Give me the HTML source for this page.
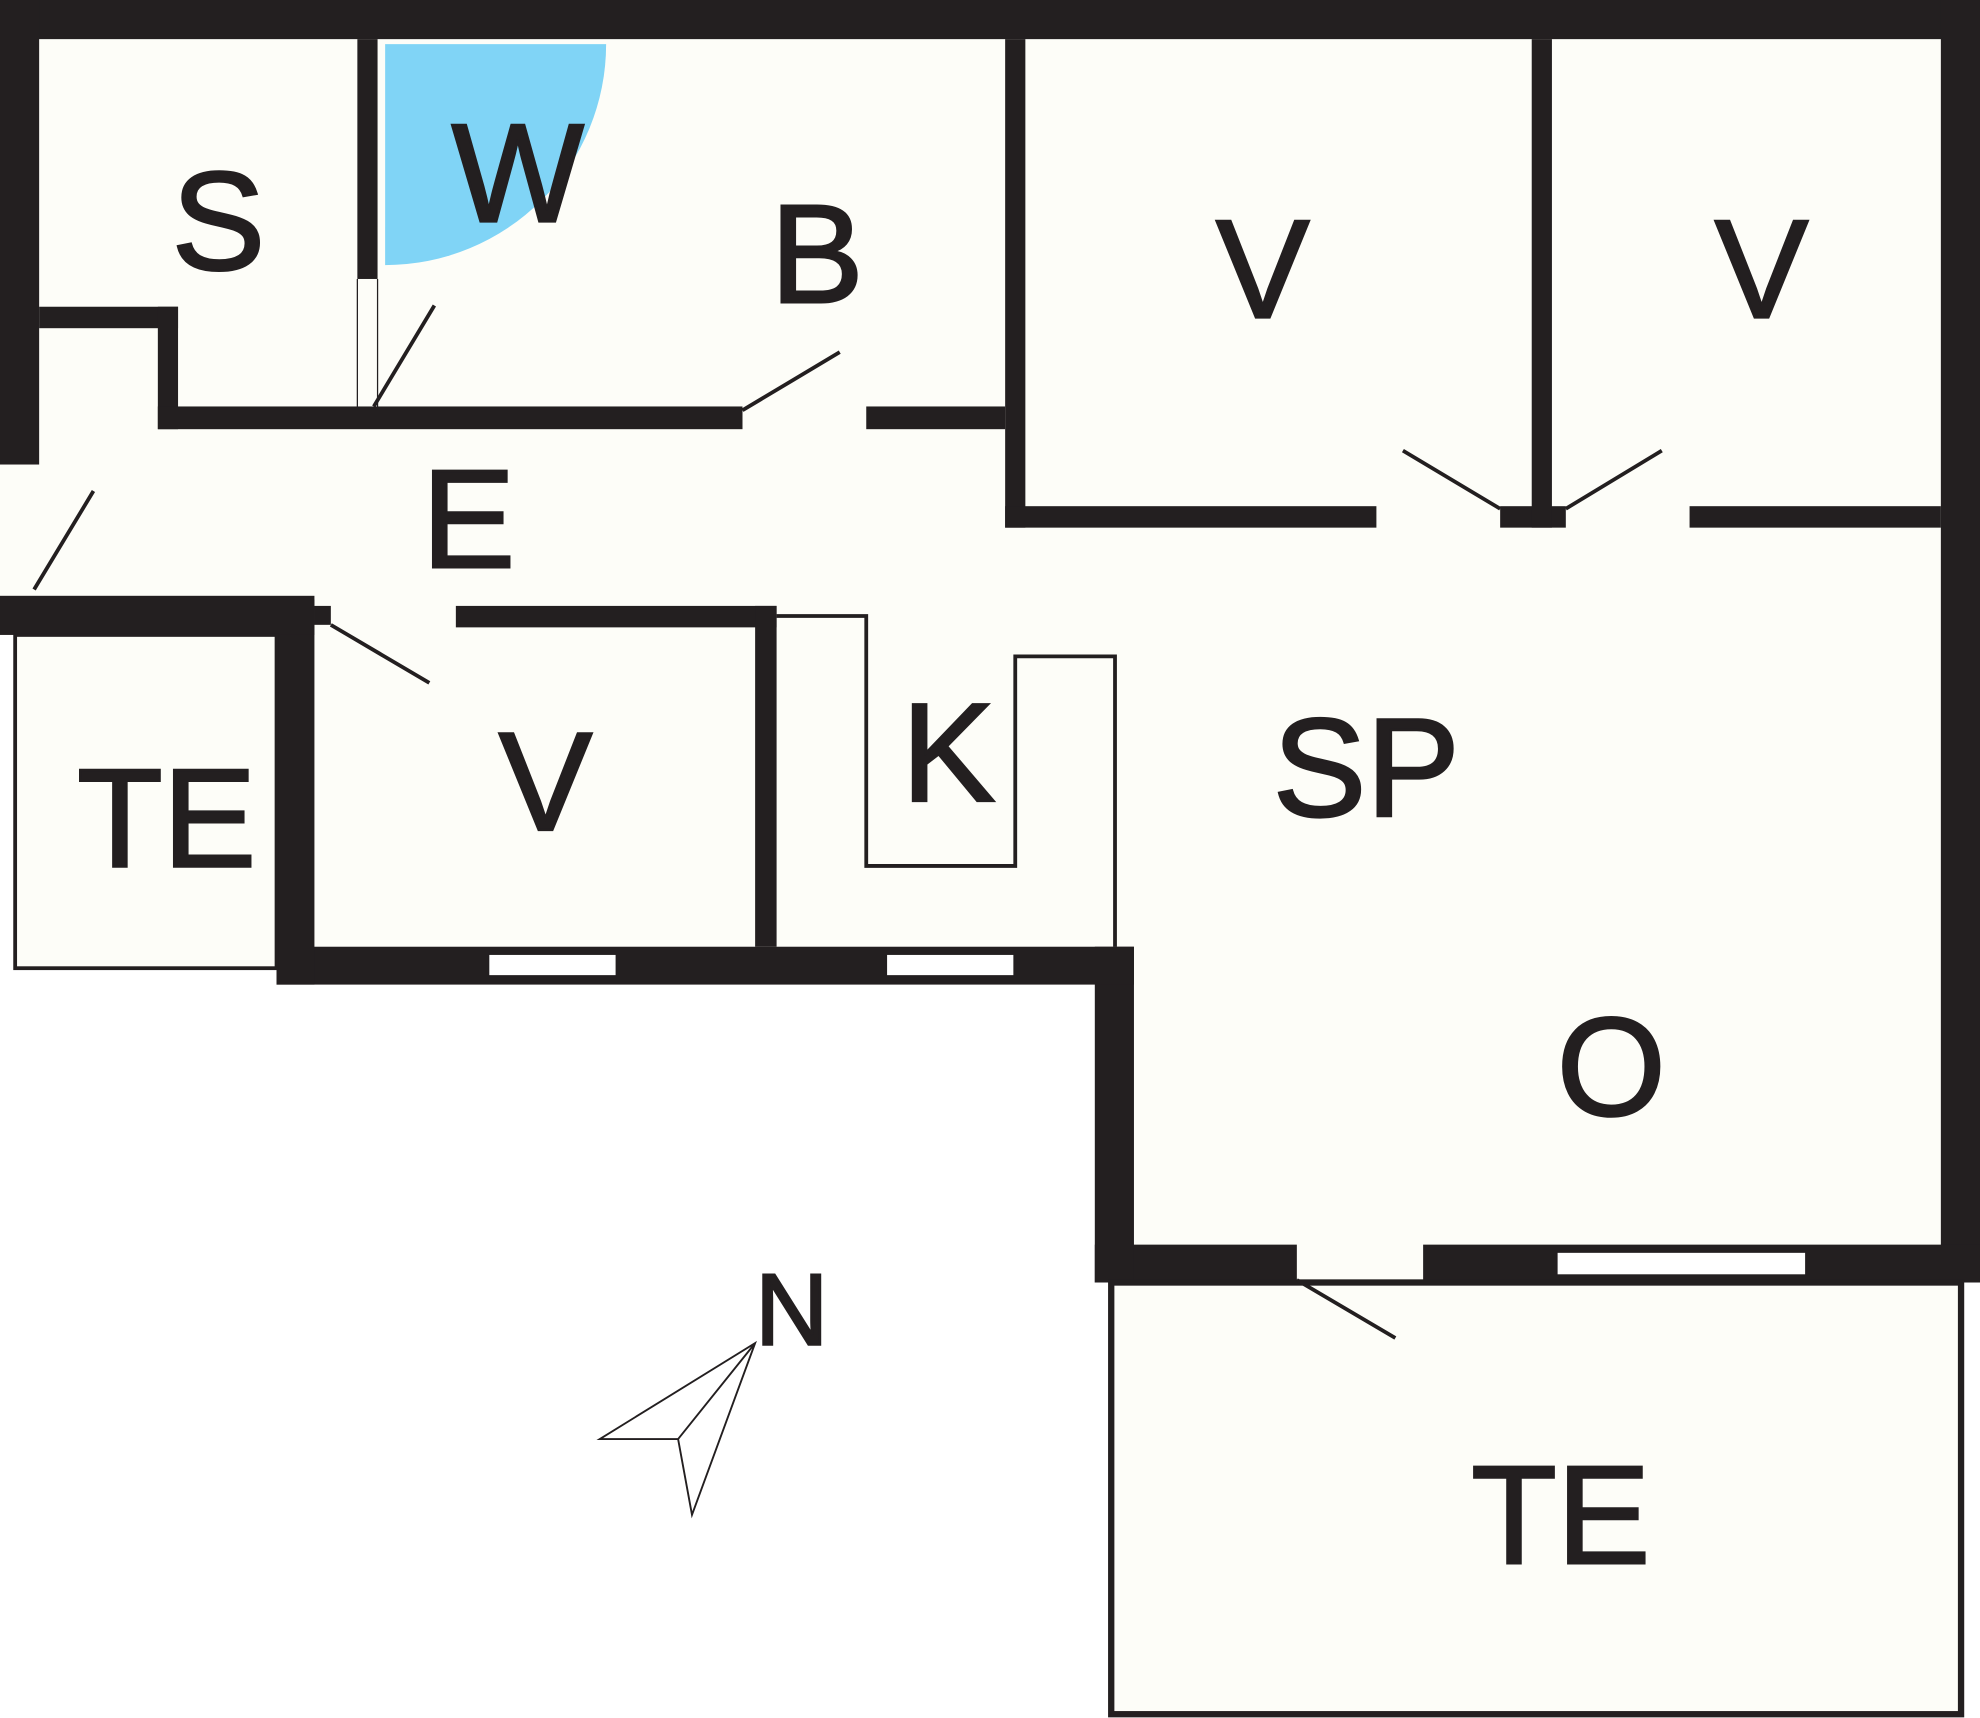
<!DOCTYPE html>
<html><head><meta charset="utf-8"><style>
html,body{margin:0;padding:0;background:#fff;}
svg{display:block;}
text{font-family:"Liberation Sans",sans-serif;fill:#231f20;stroke:#231f20;stroke-width:2;text-anchor:middle;dominant-baseline:central;}
</style></head><body>
<svg width="1980" height="1718" viewBox="0 0 1568 1361" preserveAspectRatio="none" xmlns="http://www.w3.org/2000/svg">
<path d="M0 0 H1568 V1016 H898 V780 H219 V767 H12 V503 H0 Z" fill="#fdfdf8"/>
<rect x="880" y="1016" width="673" height="342" fill="#fdfdf8"/>
<path d="M305 35 H480 A175 175 0 0 1 305 210 Z" fill="#80d4f6"/>
<g fill="#231f20">
<rect x="0" y="0" width="1568" height="31"/>
<rect x="0" y="0" width="31" height="368"/>
<rect x="1537" y="0" width="31" height="1016"/>
<rect x="867" y="986" width="160" height="30"/>
<rect x="1127" y="986" width="441" height="30"/>
<rect x="867" y="750" width="31" height="266"/>
<rect x="219" y="750" width="679" height="30"/>
<rect x="219" y="475" width="30" height="305"/>
<rect x="0" y="472" width="249" height="31"/>
<rect x="249" y="480" width="13" height="15"/>
<rect x="361" y="480" width="254" height="17"/>
<rect x="598" y="480" width="17" height="270"/>
<rect x="283" y="31" width="16" height="190"/>
<rect x="31" y="243" width="110" height="17"/>
<rect x="125" y="243" width="16" height="97"/>
<rect x="125" y="322" width="463" height="18"/>
<rect x="686" y="322" width="110" height="18"/>
<rect x="796" y="31" width="16" height="387"/>
<rect x="796" y="401" width="294" height="17"/>
<rect x="1338" y="401" width="199" height="17"/>
<rect x="1188" y="401" width="52" height="17"/>
<rect x="1213" y="31" width="16" height="387"/>
</g>
<g fill="#fff" stroke="#231f20" stroke-width="1">
<rect x="387" y="756" width="101" height="17"/>
<rect x="702" y="756" width="101" height="17"/>
<rect x="1233" y="992" width="197" height="18"/>
</g>
<g fill="none" stroke="#231f20" stroke-width="3">
<rect x="12" y="503" width="207" height="264"/>
<path d="M615 488 H686 V686 H804 V520 H883 V750"/>
<rect x="880" y="1016" width="673" height="342" stroke-width="5"/>
<path d="M296 322 L344 242 M588 325 L665 279 M1111 357 L1188 403 M1240 403 L1316 357 M27 467 L74 389 M262 495 L340 541 M1027 1014 L1105 1060"/>
<path d="M283 221 V322 M299 221 V322" stroke-width="1"/>
<path d="M475 1140 L598 1064 L548 1200 L537 1140 Z M537 1140 L598 1064" stroke-width="1.5"/>
</g>
<g font-size="111">
<text x="173" y="175">S</text>
<text x="410" y="137">W</text>
<text x="647" y="201">B</text>
<text x="1000" y="213">V</text>
<text x="1395" y="213">V</text>
<text x="371" y="411">E</text>
<text x="132" y="648">TE</text>
<text x="432" y="619">V</text>
<text x="751" y="596">K</text>
<text x="1082" y="608">SP</text>
<text x="1276" y="845">O</text>
<text x="1236" y="1200">TE</text>
<text x="627" y="1038" font-size="80">N</text>
</g>
</svg>
</body></html>
